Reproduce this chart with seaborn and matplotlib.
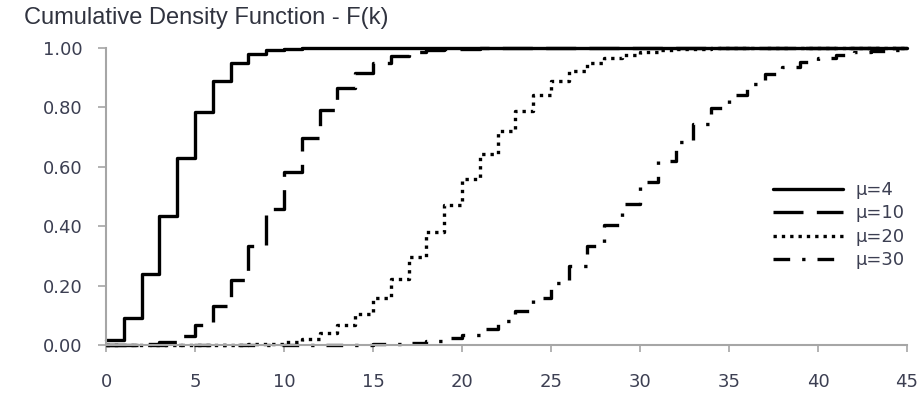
import matplotlib
matplotlib.use("Agg")
import matplotlib.pyplot as plt
import seaborn as sns
import pandas as pd
from matplotlib.lines import Line2D

k_values = list(range(0, 46))

cdf_mu4 = [0.018, 0.092, 0.238, 0.433, 0.629, 0.785, 0.889, 0.949, 0.979, 0.992,
           0.997, 0.999, 1.000, 1.000, 1.000, 1.000, 1.000, 1.000, 1.000, 1.000,
           1.000, 1.000, 1.000, 1.000, 1.000, 1.000, 1.000, 1.000, 1.000, 1.000,
           1.000, 1.000, 1.000, 1.000, 1.000, 1.000, 1.000, 1.000, 1.000, 1.000,
           1.000, 1.000, 1.000, 1.000, 1.000, 1.000]
cdf_mu10 = [0.000, 0.000, 0.003, 0.010, 0.029, 0.067, 0.130, 0.220, 0.333, 0.458,
            0.583, 0.697, 0.792, 0.864, 0.917, 0.951, 0.973, 0.986, 0.993, 0.997,
            0.998, 0.999, 1.000, 1.000, 1.000, 1.000, 1.000, 1.000, 1.000, 1.000,
            1.000, 1.000, 1.000, 1.000, 1.000, 1.000, 1.000, 1.000, 1.000, 1.000,
            1.000, 1.000, 1.000, 1.000, 1.000, 1.000]
cdf_mu20 = [0.000, 0.000, 0.000, 0.000, 0.000, 0.000, 0.000, 0.001, 0.002, 0.005,
            0.011, 0.021, 0.039, 0.066, 0.105, 0.157, 0.221, 0.297, 0.381, 0.470,
            0.559, 0.644, 0.721, 0.787, 0.843, 0.888, 0.922, 0.948, 0.966, 0.978,
            0.987, 0.992, 0.995, 0.997, 0.999, 0.999, 1.000, 1.000, 1.000, 1.000,
            1.000, 1.000, 1.000, 1.000, 1.000, 1.000]
cdf_mu30 = [0.000, 0.000, 0.000, 0.000, 0.000, 0.000, 0.000, 0.000, 0.000, 0.000,
            0.000, 0.000, 0.000, 0.000, 0.001, 0.002, 0.004, 0.008, 0.013, 0.022,
            0.035, 0.055, 0.081, 0.115, 0.157, 0.208, 0.267, 0.333, 0.404, 0.476,
            0.548, 0.619, 0.685, 0.744, 0.797, 0.843, 0.880, 0.911, 0.935, 0.954,
            0.968, 0.978, 0.985, 0.990, 0.994, 0.996]

series_labels = ["μ=4", "μ=10", "μ=20", "μ=30"]
series_values = [cdf_mu4, cdf_mu10, cdf_mu20, cdf_mu30]
x_ticks = [0, 5, 10, 15, 20, 25, 30, 35, 40, 45]
y_ticks = [0.0, 0.2, 0.4, 0.6, 0.8, 1.0]
title_text = "Cumulative Density Function - F(k)"

frames = []
for lab, vals in zip(series_labels, series_values):
    frames.append(pd.DataFrame({"k": k_values, "F": vals, "mu": lab}))
df = pd.concat(frames, ignore_index=True)

sns.set_theme(style="white")
plt.rcParams["font.family"] = ["DejaVu Sans"]

LW = 2.4
dash_map = {
    "μ=4": "",
    "μ=10": (9, 4),
    "μ=20": (1, 1.5),
    "μ=30": (5, 3.6, 1, 3.6),
}

fig = plt.figure(figsize=(9.24, 3.93), dpi=100)
ax = fig.add_axes([106 / 924, 1 - 345 / 393, (907 - 106) / 924, (345 - 48) / 393])

sns.lineplot(data=df, x="k", y="F", style="mu", dashes=dash_map, color="black",
             drawstyle="steps-post", linewidth=LW, estimator=None, legend=False,
             ax=ax, clip_on=False)

ax.set_xlim(0, 45)
ax.set_ylim(0, 1.0)
ax.set_xticks(x_ticks)
ax.set_yticks(y_ticks)
ax.set_yticklabels([f"{v:.2f}" for v in y_ticks])
ax.set_xlabel("")
ax.set_ylabel("")

tick_color = "#3c3f52"
ax.tick_params(axis="x", direction="out", length=5, width=1.2, color="#a6a6a6",
               labelsize=13, labelcolor=tick_color, pad=15, bottom=True)
ax.tick_params(axis="y", direction="out", length=6, width=1.2, color="#a6a6a6",
               labelsize=13, labelcolor=tick_color, pad=11, left=True)
for side in ["top", "right"]:
    ax.spines[side].set_visible(False)
for side in ["left", "bottom"]:
    ax.spines[side].set_color("#a6a6a6")
    ax.spines[side].set_linewidth(1.5)

fig.text(24 / 924, 1 - 18 / 393, title_text, ha="left", va="center",
         fontsize=17, color="#30333f", family="Liberation Sans")

handles = []
for lab in series_labels:
    d = dash_map[lab]
    if d == "":
        h = Line2D([], [], color="black", linewidth=LW, linestyle="-")
    else:
        h = Line2D([], [], color="black", linewidth=LW, linestyle=(0, d))
    handles.append(h)
leg = fig.legend(handles, series_labels, loc="upper left",
                 bbox_to_anchor=(773 / 924, 1 - 181 / 393), frameon=False,
                 handlelength=3.9, handletextpad=0.66, labelspacing=0.3,
                 borderpad=0, borderaxespad=0, fontsize=13)
for t in leg.get_texts():
    t.set_color(tick_color)

fig.savefig("out.png", dpi=100)
